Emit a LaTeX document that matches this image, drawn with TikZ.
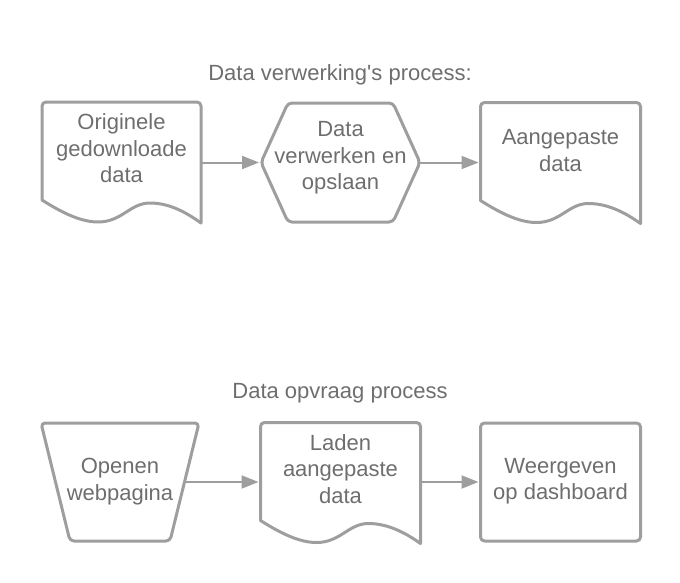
\documentclass[tikz,border=0pt]{standalone}
\usepackage{fontspec}
\setmainfont{Liberation Sans}[Ligatures=TeXOff]
\usetikzlibrary{arrows.meta}
\definecolor{lnc}{RGB}{158,158,158}
\definecolor{txc}{RGB}{110,110,110}
\tikzset{
  box/.style={draw=none, inner sep=0pt, outer sep=0pt, rectangle},
  shp/.style={draw=lnc, line width=3pt, line join=round},
  lbl/.style={text=txc, align=center, inner sep=0pt, font=\fontsize{22}{26.6}\selectfont},
  ttl/.style={text=txc, inner sep=0pt, anchor=base, font=\fontsize{22}{26.6}\selectfont},
  arr/.style={draw=lnc, line width=2pt, -{Triangle[length=17pt,width=13pt]}, shorten >=2pt},
}
\begin{document}
\begin{tikzpicture}[x=1pt,y=-1pt]
\useasboundingbox (0,0) rectangle (680,582);
% titles
\node[ttl] (t1title) at (340,80) {Data verwerking's process:};
\node[ttl] (t2title) at (340,398) {Data opvraag process};
% top row shapes
\node[box, minimum width=159pt, minimum height=121pt] (d1) at (121.5,162.5) {};
\node[box, minimum width=159pt, minimum height=119pt] (h1) at (340.5,162.5) {};
\node[box, minimum width=160pt, minimum height=121pt] (d3) at (560.5,163) {};
% bottom row shapes
\node[box, minimum width=158pt, minimum height=118pt] (t1) at (120,482) {};
\node[box, minimum width=160pt, minimum height=121pt] (d2) at (340.5,483) {};
\node[box, minimum width=160pt, minimum height=118pt] (r1) at (560.5,482) {};
% outlines
\foreach \n/\w in {d1/159,d3/160,d2/160}{
  \draw[shp] (\n.south east) [rounded corners=4pt] -- (\n.north east) -- (\n.north west) [sharp corners] -- ++(0,98)
    .. controls +(22,14) and +(-16,0) .. ++(56,22)
    .. controls +(24,0) and +(-20,0) .. ++(52,-19)
    .. controls +(20,0) and +(-14,-10) .. ++(\w-108,20) -- cycle;
}
\draw[shp, rounded corners=4pt] (h1.west) -- ++(27,-59.5) -- ++(105,0) -- ++(27,59.5) -- ++(-27,59.5) -- ++(-105,0) -- cycle;
\draw[shp, rounded corners=4pt] (t1.north west) -- (t1.north east) -- ++(-29,118) -- ++(-100,0) -- cycle;
\draw[shp, rounded corners=4pt] (r1.north west) rectangle (r1.south east);
% texts
\node[lbl] (d1t) at (121.5,148.5) {Originele\\gedownloade\\data};
\node[lbl] (h1t) at (340.5,157.8) {Data\\verwerken en\\opslaan};
\node[lbl] (d3t) at (560.5,150.5) {Aangepaste\\data};
\node[lbl] (t1t) at (120,481.3) {Openen\\webpagina};
\node[lbl] (d2t) at (340.5,468.9) {Laden\\aangepaste\\data};
\node[lbl] (r1t) at (560.5,481.3) {Weergeven\\op dashboard};
% connectors
\draw[arr] (d1.east) -- (h1.west);
\draw[arr] (h1.east) -- (h1.east -| d3.west);
\coordinate (t1r) at ([xshift=-14.5pt]t1.east);
\draw[arr] (t1r) -- (t1r -| d2.west);
\draw[arr] (r1.west -| d2.east) -- (r1.west);
\end{tikzpicture}
\end{document}
